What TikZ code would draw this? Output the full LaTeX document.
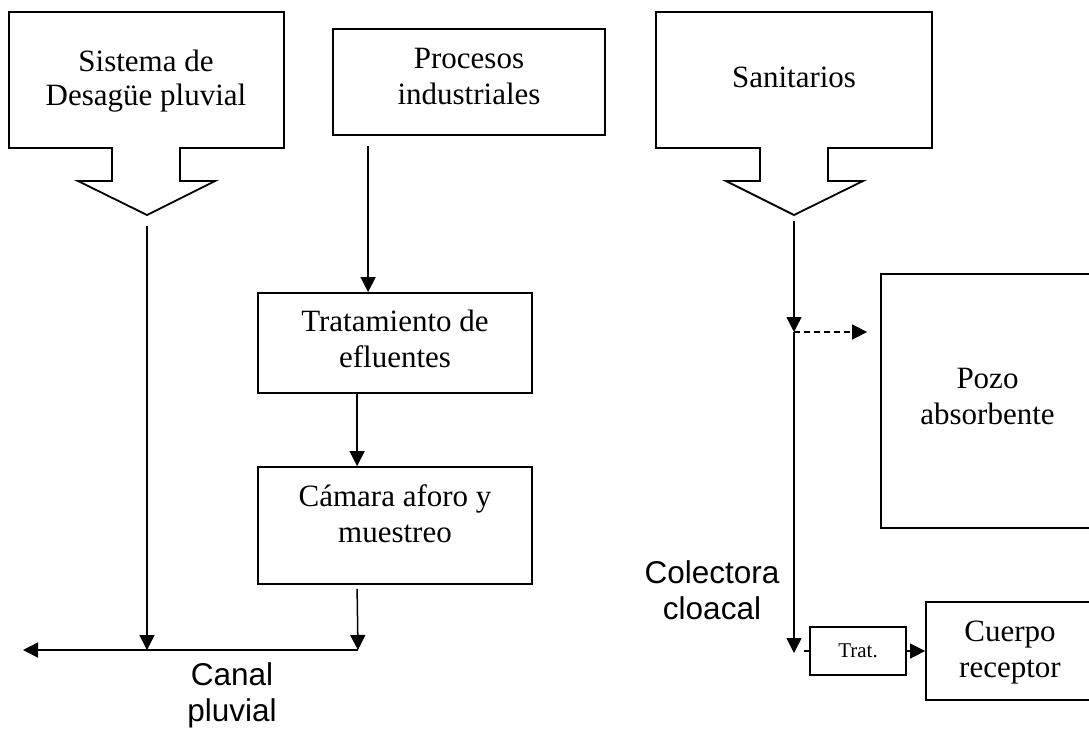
\documentclass[tikz,border=0pt]{standalone}
\usepackage{fontspec}
\setmainfont{Liberation Serif}
\newfontfamily\arialish{Liberation Sans}
\usetikzlibrary{arrows.meta,calc}
\tikzset{
  boxline/.style={draw=black, line width=1.8pt},
  flowbox/.style={boxline, rectangle, inner sep=0pt},
  serifnote/.style={align=center, inner sep=0pt, font=\fontsize{31}{36}\selectfont},
  sansnote/.style={align=center, inner sep=0pt, font=\arialish\fontsize{31.5}{36}\selectfont},
  arr/.style={line width=1.5pt, -{Triangle[width=15pt,length=15pt]}},
  plain/.style={line width=1.5pt},
  dasharr/.style={arr, dash pattern=on 6pt off 4pt}
}
\begin{document}
\begin{tikzpicture}[x=1pt, y=-1pt]
\clip (0,0) rectangle (1089,729);

% callout boxes with a broad downward arrow
\draw[boxline, line join=miter] (9,12) -- (284,12) -- (284,148) -- (180,148) -- (180,181)
  -- (215,181) -- (147,215) -- (78,181) -- (112,181) -- (112,148) -- (9,148) -- cycle;
\coordinate (sisTip) at (147,215);
\node[serifnote, font=\fontsize{31}{34}\selectfont] (sis) at (146,81) {Sistema de\\Desagüe pluvial};

\draw[boxline, line join=miter] (656,12) -- (932,12) -- (932,148) -- (828,148) -- (828,181)
  -- (863,181) -- (794,215) -- (726,181) -- (760,181) -- (760,148) -- (656,148) -- cycle;
\coordinate (sanTip) at (794,215);
\node[serifnote] (san) at (794,77) {Sanitarios};

% process boxes and their labels
\node[flowbox, minimum width=272pt, minimum height=106pt] (proc) at (469,82) {};
\node[serifnote] (proctxt) at (469,76) {Procesos\\industriales};
\node[flowbox, minimum width=274pt, minimum height=100pt] (trat) at (395,343) {};
\node[serifnote] (trattxt) at (395,339) {Tratamiento de\\efluentes};
\node[flowbox, minimum width=274pt, minimum height=117pt] (cam) at (395,525.5) {};
\node[serifnote] (camtxt) at (395,514) {Cámara aforo y\\muestreo};
\node[flowbox, minimum width=213pt, minimum height=254pt] (pozo) at (987.5,401) {};
\node[serifnote] (pozotxt) at (987.5,396) {Pozo\\absorbente};
\node[flowbox, minimum width=168pt, minimum height=98pt] (cuer) at (1010,651) {};
\node[serifnote] (cuertxt) at (1010,653) {Cuerpo\\receptor};
\node[flowbox, minimum width=96pt, minimum height=48pt, font=\fontsize{21}{24}\selectfont] (tr) at (858,651) {Trat.};

% canal pluvial
\coordinate (canR) at (358,650);
\coordinate (canL) at (23,650);
\draw[arr] (canR) -- (canL);
\node[sansnote] (canal) at (232,695) {Canal\\pluvial};

% left branch
\draw[arr] ([yshift=-11pt]sisTip) -- (sisTip |- canR);
\draw[arr] ([xshift=36pt,yshift=-10pt]proc.south west) -- ([xshift=36pt]proc.south west |- trat.north);
\draw[arr] ([xshift=100pt]trat.south west) -- ([xshift=100pt]cam.north west);
\draw[arr] ([xshift=100pt,yshift=-4pt]cam.south west) -- (canR);

% colectora cloacal
\coordinate (c0) at ([yshift=-6pt]sanTip);
\coordinate (cm) at (c0 |- 0,332);
\coordinate (c1) at (c0 |- 0,653);
\draw[arr] (c0) -- (cm);
\draw[arr] (cm) -- (c1);
\draw[dasharr] (cm) -- ([xshift=-13pt]pozo.west |- cm);
\node[sansnote] (colect) at (712,590) {Colectora\\cloacal};
\draw[plain] (tr.west) -- ++(-5,0);
\draw[arr] (tr.east) -- (cuer.west);
\end{tikzpicture}
\end{document}
